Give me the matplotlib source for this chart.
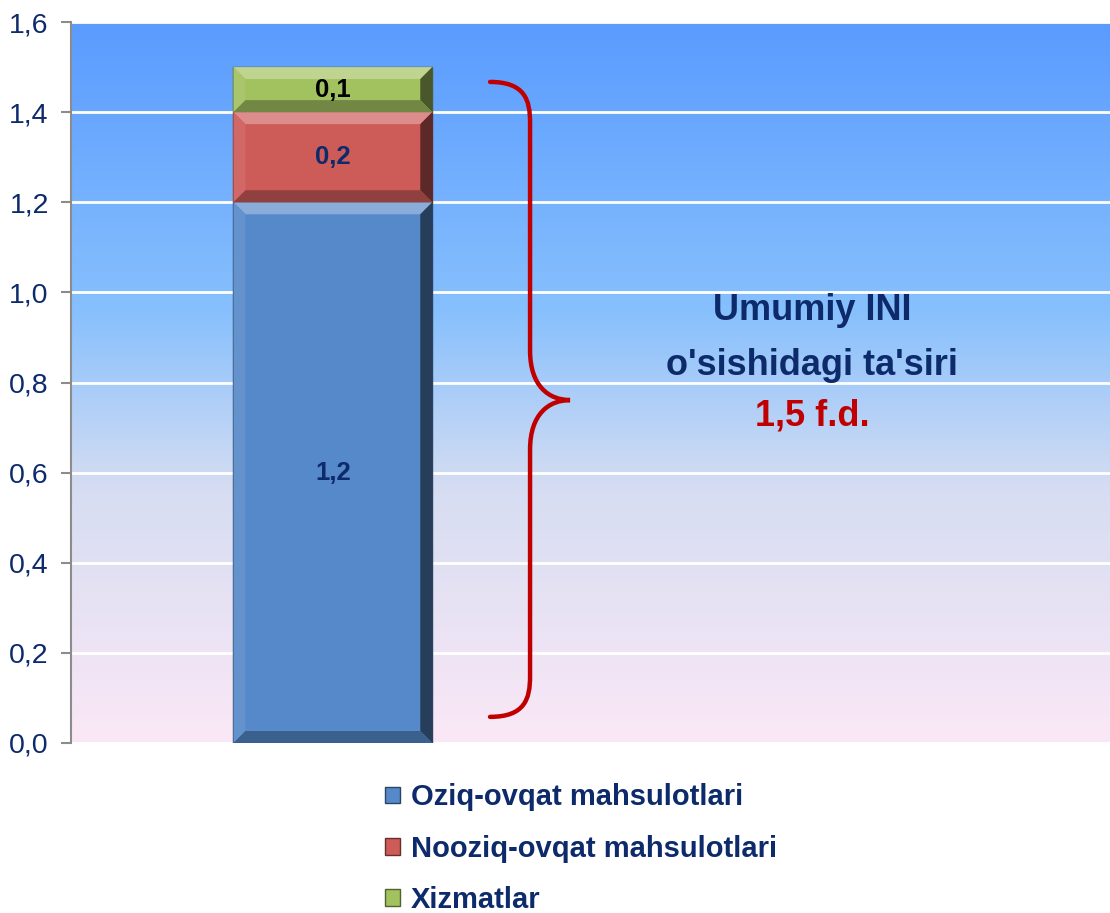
import numpy as np
import matplotlib
matplotlib.use("Agg")
import matplotlib.pyplot as plt
from matplotlib.colors import LinearSegmentedColormap, to_rgb
from matplotlib.patches import Polygon, Patch, PathPatch
from matplotlib.path import Path
import matplotlib.transforms as mtransforms

# data
categories = ["Oziq-ovqat mahsulotlari", "Nooziq-ovqat mahsulotlari", "Xizmatlar"]
values = [1.2, 0.2, 0.1]
value_labels = ["1,2", "0,2", "0,1"]
label_colors = ["#0D2A6B", "#0D2A6B", "#000000"]
bar_colors = ["#5689C9", "#CD5B58", "#A2C15F"]
yticks = [0.0, 0.2, 0.4, 0.6, 0.8, 1.0, 1.2, 1.4, 1.6]
ytick_labels = ["0,0", "0,2", "0,4", "0,6", "0,8", "1,0", "1,2", "1,4", "1,6"]
total_label = "1,5 f.d."

plt.rcParams['font.family'] = ['Liberation Sans', 'DejaVu Sans']
navy = "#0D2A6B"

fig = plt.figure(figsize=(11.1, 9.13), dpi=100)
ax = fig.add_axes([0.064, 0.1862, 0.936, 0.7897])

# gradient background
grad = LinearSegmentedColormap.from_list(
    "bg", [(0.0, "#FBE8F6"), (0.35, "#D6DDF2"), (0.6, "#87C0FD"), (1.0, "#5A9BFF")])
ax.imshow(np.linspace(0, 1, 256).reshape(-1, 1), cmap=grad, aspect="auto",
          extent=[0, 1, 0, 1], origin="lower", transform=ax.transAxes, zorder=0)

ax.set_xlim(-0.79, 2.345)
ax.set_ylim(0, 1.6)
ax.set_yticks(yticks)
ax.set_yticklabels(ytick_labels, fontsize=20.5, color=navy)
ax.set_xticks([])
ax.grid(axis="y", color="white", linewidth=2, zorder=1)
for s in ["top", "right", "bottom"]:
    ax.spines[s].set_visible(False)
ax.spines["left"].set_color("#8C8C8C")
ax.spines["left"].set_linewidth(1.5)
ax.tick_params(axis="y", length=7, width=1.5, color="#8C8C8C", pad=9)


def shade(c, f):
    r = np.array(to_rgb(c))
    if f > 0:
        return tuple(r + (1 - r) * f)
    return tuple(r * (1 + f))


# stacked bar with bevel
width = 0.6
bottom = 0.0
px_per_y = 0.7897 * 913 / 1.6
px_per_x = 0.936 * 1110 / 3.135
bev = 12
bx = bev / px_per_x
by = bev / px_per_y
for v, c, lab, lc in zip(values, bar_colors, value_labels, label_colors):
    ax.bar(0, v, width=width, bottom=bottom, color=c, edgecolor=shade(c, -0.5),
           linewidth=1.0, zorder=2)
    x0, x1, y0, y1 = -width / 2, width / 2, bottom, bottom + v
    faces = [
        ([(x0, y1), (x1, y1), (x1 - bx, y1 - by), (x0 + bx, y1 - by)], shade(c, 0.3)),
        ([(x0, y0), (x0, y1), (x0 + bx, y1 - by), (x0 + bx, y0 + by)], shade(c, 0.08)),
        ([(x1, y0), (x1, y1), (x1 - bx, y1 - by), (x1 - bx, y0 + by)], shade(c, -0.55)),
        ([(x0, y0), (x1, y0), (x1 - bx, y0 + by), (x0 + bx, y0 + by)], shade(c, -0.3)),
    ]
    for pts, fc in faces:
        ax.add_patch(Polygon(pts, closed=True, facecolor=fc, edgecolor="none", zorder=3))
    ax.text(0, bottom + v / 2, lab, ha="center", va="center", fontsize=18.5,
            fontweight="bold", color=lc, zorder=4)
    bottom += v

# curly brace spanning the total
tr = mtransforms.blended_transform_factory(ax.transAxes, ax.transData)
xe, xl, xt = 0.4033, 0.4418, 0.4803
yt, yb, ym = 1.467, 0.058, 0.761
verts = [(xe, yt), (xl - 0.005, yt), (xl, yt - 0.04), (xl, yt - 0.09),
         (xl, ym + 0.11),
         (xl, ym + 0.03), (xt - 0.02, ym), (xt, ym),
         (xt - 0.02, ym), (xl, ym - 0.03), (xl, ym - 0.11),
         (xl, yb + 0.09),
         (xl, yb + 0.04), (xl - 0.005, yb), (xe, yb)]
codes = [Path.MOVETO, Path.CURVE4, Path.CURVE4, Path.CURVE4,
         Path.LINETO,
         Path.CURVE4, Path.CURVE4, Path.CURVE4,
         Path.CURVE4, Path.CURVE4, Path.CURVE4,
         Path.LINETO,
         Path.CURVE4, Path.CURVE4, Path.CURVE4]
ax.add_patch(PathPatch(Path(verts, codes), facecolor="none", edgecolor="#C00000",
                       linewidth=3.2, capstyle="round", transform=tr, zorder=5))

ax.text(0.713, 0.600, "Umumiy INI", transform=ax.transAxes, ha="center", va="center",
        fontsize=26, fontweight="bold", color=navy)
ax.text(0.713, 0.524, "o'sishidagi ta'siri", transform=ax.transAxes, ha="center",
        va="center", fontsize=26, fontweight="bold", color=navy)
ax.text(0.713, 0.453, total_label, transform=ax.transAxes, ha="center", va="center",
        fontsize=26, fontweight="bold", color="#C00000")

handles = [Patch(facecolor=c, edgecolor=shade(c, -0.5)) for c in bar_colors]
leg = fig.legend(handles, categories, loc="upper left", bbox_to_anchor=(0.334, 0.158),
                 frameon=False, borderpad=0, handlelength=0.5, handleheight=0.5,
                 handletextpad=0.38, labelspacing=0.8,
                 prop={"size": 21, "weight": "bold"})
for t in leg.get_texts():
    t.set_color(navy)

fig.savefig("out.png", dpi=100)
